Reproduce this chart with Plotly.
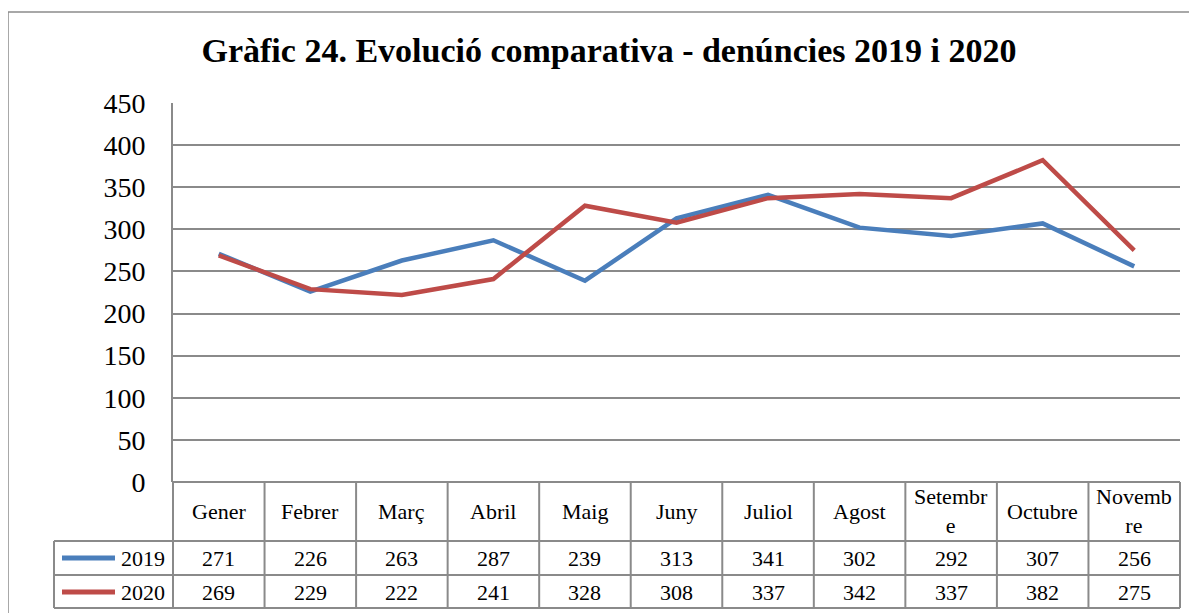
import plotly.graph_objects as go

months = ["Gener", "Febrer", "Març", "Abril", "Maig", "Juny", "Juliol",
          "Agost", "Setembre", "Octubre", "Novembre"]
header_labels = ["Gener", "Febrer", "Març", "Abril", "Maig", "Juny", "Juliol",
                 "Agost", "Setembr<br>e", "Octubre", "Novemb<br>re"]
series_names = ["2019", "2020"]
values_2019 = [271, 226, 263, 287, 239, 313, 341, 302, 292, 307, 256]
values_2020 = [269, 229, 222, 241, 328, 308, 337, 342, 337, 382, 275]
colors = ["#4A7EBB", "#BE4B48"]
title_text = "Gràfic 24. Evolució comparativa - denúncies 2019 i 2020"

OFF = 8  # page body margin
W, H = 1197 - OFF, 613 - OFF
L, R, T, B = 173 - OFF, 1180 - OFF, 103 - OFF, 482 - OFF  # plot area in figure pixels
FONT = "Liberation Serif"
GRID = "#8a8a8a"

n = len(months)
x_idx = list(range(n))

def px2x(px):
    return (px - OFF - L) / (R - L)

def py2y(py):
    return (B - (py - OFF)) / (B - T)

fig = go.Figure()
for name, vals, col in zip(series_names, [values_2019, values_2020], colors):
    fig.add_trace(go.Scatter(x=x_idx, y=vals, mode="lines", name=name,
                             line=dict(color=col, width=4.5),
                             showlegend=False, hoverinfo="x+y"))

shapes = []
# outer frame
shapes.append(dict(type="rect", xref="paper", yref="paper",
                   x0=px2x(8), x1=px2x(1197 + 20), y0=py2y(613 + 20), y1=py2y(12),
                   line=dict(color="#8c8c8c", width=1.5), layer="below"))

line_style = dict(color=GRID, width=2)
# vertical column boundaries
for k in range(n + 1):
    xp = k / n
    shapes.append(dict(type="line", xref="paper", yref="paper",
                       x0=xp, x1=xp, y0=py2y(482), y1=py2y(608), line=line_style))
# legend column left border
shapes.append(dict(type="line", xref="paper", yref="paper",
                   x0=px2x(54), x1=px2x(54), y0=py2y(541), y1=py2y(608), line=line_style))
# horizontal lines
shapes.append(dict(type="line", xref="paper", yref="paper",
                   x0=0, x1=1, y0=py2y(482), y1=py2y(482), line=line_style))
for py in [541, 575, 608]:
    shapes.append(dict(type="line", xref="paper", yref="paper",
                       x0=px2x(54), x1=1, y0=py2y(py), y1=py2y(py), line=line_style))
# legend keys
row_centers = [558, 592]
for col, yc in zip(colors, row_centers):
    shapes.append(dict(type="line", xref="paper", yref="paper",
                       x0=px2x(62), x1=px2x(115), y0=py2y(yc), y1=py2y(yc),
                       line=dict(color=col, width=5)))

annotations = []
for i, lab in enumerate(header_labels):
    annotations.append(dict(x=i, y=py2y(511), xref="x", yref="paper", text=lab,
                            showarrow=False, font=dict(family=FONT, size=22, color="#000"),
                            xanchor="center", yanchor="middle"))
for name, vals, yc in zip(series_names, [values_2019, values_2020], row_centers):
    annotations.append(dict(x=px2x(167), y=py2y(yc), xref="paper", yref="paper",
                            text=name, showarrow=False, xanchor="right", yanchor="middle",
                            font=dict(family=FONT, size=22, color="#000")))
    for i, v in enumerate(vals):
        annotations.append(dict(x=i, y=py2y(yc), xref="x", yref="paper", text=str(v),
                                showarrow=False, xanchor="center", yanchor="middle",
                                font=dict(family=FONT, size=22, color="#000")))

fig.update_layout(
    width=W, height=H,
    margin=dict(l=L, r=W - R, t=T, b=H - B, pad=0),
    paper_bgcolor="white", plot_bgcolor="white",
    title=dict(text="<b>" + title_text + "</b>", x=(609 - OFF) / W, xref="container",
               xanchor="center", y=1 - (50 - OFF) / H, yref="container", yanchor="middle",
               font=dict(family=FONT, size=34, color="#000")),
    xaxis=dict(range=[-0.5, n - 0.5], showticklabels=False, showgrid=False,
               zeroline=False, showline=False, fixedrange=True),
    yaxis=dict(range=[0, 450], dtick=50, tick0=0, showgrid=True, gridcolor=GRID,
               gridwidth=2, zeroline=False, showline=True, linecolor=GRID, linewidth=2,
               ticks="", ticklabelstandoff=20,
               tickfont=dict(family=FONT, size=28, color="#000")),
    shapes=shapes, annotations=annotations,
    showlegend=False,
)

fig.write_html("out.html")
